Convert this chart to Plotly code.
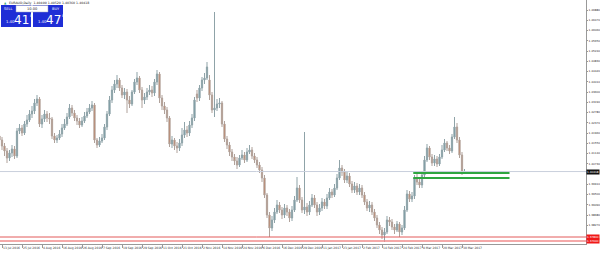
import pandas as pd
import plotly.graph_objects as go

# ---------------- data ----------------
start_date = "2016-07-12"
end_date = "2017-03-31"
holidays = ["2016-12-26", "2017-01-02"]

open_ = [1.4184,1.4168,1.4144,1.4124,1.4096,1.4116,1.4132,1.4104,1.4204,1.4216,
1.4196,1.4232,1.4248,1.4272,1.4284,1.4316,1.4332,1.4232,1.4252,1.4272,
1.4256,1.4252,1.4184,1.4168,1.4176,1.4192,1.4216,1.4232,1.4260,1.4296,
1.4276,1.4256,1.4244,1.4228,1.4244,1.4264,1.4280,1.4296,1.4308,1.4168,
1.4148,1.4164,1.4176,1.4220,1.4272,1.4328,1.4368,1.4392,1.4408,1.4376,
1.4348,1.4360,1.4328,1.4312,1.4360,1.4400,1.4416,1.4368,1.4328,1.4340,
1.4360,1.4368,1.4356,1.4400,1.4432,1.4336,1.4304,1.4288,1.4256,1.4152,
1.4168,1.4144,1.4136,1.4156,1.4188,1.4208,1.4196,1.4228,1.4256,1.4352,
1.4336,1.4376,1.4408,1.4416,1.4408,1.4348,1.4288,1.4296,1.4312,1.4316,
1.4232,1.4172,1.4148,1.4120,1.4100,1.4084,1.4068,1.4096,1.4108,1.4088,
1.4120,1.4128,1.4104,1.4088,1.4068,1.4048,1.4016,1.3948,1.3868,1.3816,
1.3848,1.3880,1.3908,1.3888,1.3868,1.3896,1.3880,1.3856,1.3888,1.3928,
1.3976,1.3928,1.3888,1.3900,1.3880,1.3908,1.3936,1.3908,1.3880,1.3896,
1.3920,1.3904,1.3936,1.3960,1.3948,1.3976,1.4016,1.4056,1.4040,1.4008,
1.4024,1.3992,1.3968,1.3984,1.3960,1.3976,1.3948,1.3920,1.3896,1.3908,
1.3880,1.3856,1.3828,1.3808,1.3788,1.3800,1.3848,1.3840,1.3820,1.3808,
1.3832,1.3800,1.3816,1.3888,1.3952,1.3932,1.3944,1.4016,1.4000,1.3988,
1.4028,1.4088,1.4136,1.4100,1.4076,1.4092,1.4072,1.4100,1.4128,1.4156,
1.4136,1.4124,1.4180,1.4220,1.4168,1.4108,1.4040]

high = [1.4200,1.4180,1.4156,1.4136,1.4128,1.4148,1.4144,1.4216,1.4232,1.4228,
1.4244,1.4268,1.4288,1.4304,1.4332,1.4348,1.4340,1.4268,1.4288,1.4284,
1.4276,1.4260,1.4196,1.4188,1.4208,1.4232,1.4252,1.4276,1.4312,1.4308,
1.4288,1.4268,1.4256,1.4260,1.4280,1.4296,1.4312,1.4324,1.4316,1.4176,
1.4180,1.4192,1.4232,1.4284,1.4344,1.4384,1.4408,1.4428,1.4416,1.4388,
1.4376,1.4372,1.4344,1.4368,1.4412,1.4440,1.4424,1.4380,1.4356,1.4376,
1.4388,1.4384,1.4412,1.4448,1.4440,1.4348,1.4320,1.4300,1.4264,1.4184,
1.4176,1.4160,1.4172,1.4216,1.4240,1.4224,1.4244,1.4272,1.4340,1.4368,
1.4388,1.4420,1.4436,1.4480,1.4428,1.4360,1.4680,1.4332,1.4336,1.4324,
1.4244,1.4184,1.4160,1.4132,1.4112,1.4100,1.4108,1.4128,1.4120,1.4136,
1.4148,1.4140,1.4116,1.4100,1.4080,1.4060,1.4028,1.3956,1.3880,1.3864,
1.3896,1.3928,1.3920,1.3900,1.3912,1.3908,1.3892,1.3904,1.3944,1.4020,
1.3988,1.3940,1.4200,1.3916,1.3924,1.3952,1.3948,1.3920,1.3912,1.3936,
1.3932,1.3952,1.3976,1.3972,1.3992,1.4032,1.4088,1.4068,1.4052,1.4040,
1.4036,1.4004,1.4000,1.3996,1.3992,1.3988,1.3960,1.3932,1.3924,1.3920,
1.3892,1.3868,1.3840,1.3820,1.3816,1.3864,1.3860,1.3852,1.3832,1.3844,
1.3840,1.3828,1.3904,1.3968,1.3964,1.3960,1.4028,1.4032,1.4016,1.4040,
1.4104,1.4152,1.4144,1.4112,1.4108,1.4104,1.4112,1.4148,1.4172,1.4164,
1.4148,1.4192,1.4260,1.4236,1.4180,1.4120,1.4052]

low = [1.4148,1.4128,1.4104,1.4076,1.4084,1.4100,1.4092,1.4096,1.4192,1.4184,
1.4188,1.4220,1.4240,1.4256,1.4272,1.4304,1.4220,1.4216,1.4240,1.4240,
1.4232,1.4172,1.4156,1.4156,1.4168,1.4180,1.4208,1.4224,1.4252,1.4264,
1.4244,1.4228,1.4216,1.4220,1.4236,1.4256,1.4272,1.4284,1.4156,1.4136,
1.4140,1.4156,1.4168,1.4208,1.4264,1.4316,1.4356,1.4376,1.4364,1.4336,
1.4332,1.4276,1.4296,1.4304,1.4352,1.4388,1.4356,1.4296,1.4312,1.4328,
1.4348,1.4340,1.4344,1.4388,1.4316,1.4288,1.4272,1.4240,1.4140,1.4136,
1.4128,1.4116,1.4124,1.4144,1.4176,1.4180,1.4184,1.4216,1.4244,1.4320,
1.4324,1.4364,1.4392,1.4408,1.4328,1.4276,1.4260,1.4284,1.4296,1.4220,
1.4160,1.4132,1.4104,1.4084,1.4068,1.4052,1.4060,1.4088,1.4076,1.4080,
1.4112,1.4092,1.4076,1.4056,1.4036,1.4000,1.3936,1.3856,1.3780,1.3804,
1.3836,1.3872,1.3876,1.3852,1.3856,1.3864,1.3840,1.3844,1.3880,1.3920,
1.3916,1.3876,1.3872,1.3864,1.3868,1.3900,1.3896,1.3864,1.3868,1.3884,
1.3892,1.3892,1.3928,1.3936,1.3940,1.3968,1.4008,1.4024,1.3996,1.3996,
1.3980,1.3956,1.3956,1.3948,1.3948,1.3936,1.3908,1.3884,1.3880,1.3868,
1.3844,1.3816,1.3792,1.3772,1.3760,1.3792,1.3824,1.3808,1.3792,1.3800,
1.3780,1.3788,1.3808,1.3880,1.3920,1.3920,1.3932,1.3988,1.3976,1.3976,
1.4016,1.4080,1.4088,1.4064,1.4064,1.4060,1.4064,1.4092,1.4120,1.4124,
1.4112,1.4116,1.4172,1.4156,1.4096,1.4028,1.4036]

close = [1.4168,1.4144,1.4124,1.4096,1.4116,1.4132,1.4104,1.4204,1.4216,1.4196,
1.4232,1.4248,1.4272,1.4284,1.4316,1.4332,1.4232,1.4252,1.4272,1.4256,
1.4252,1.4184,1.4168,1.4176,1.4192,1.4216,1.4232,1.4260,1.4296,1.4276,
1.4256,1.4244,1.4228,1.4244,1.4264,1.4280,1.4296,1.4308,1.4168,1.4148,
1.4164,1.4176,1.4220,1.4272,1.4328,1.4368,1.4392,1.4408,1.4376,1.4348,
1.4360,1.4328,1.4312,1.4360,1.4400,1.4416,1.4368,1.4328,1.4340,1.4360,
1.4368,1.4356,1.4400,1.4432,1.4336,1.4304,1.4288,1.4256,1.4152,1.4168,
1.4144,1.4136,1.4156,1.4188,1.4208,1.4196,1.4228,1.4256,1.4328,1.4336,
1.4376,1.4408,1.4416,1.4460,1.4348,1.4288,1.4296,1.4312,1.4316,1.4232,
1.4172,1.4148,1.4120,1.4100,1.4084,1.4068,1.4096,1.4108,1.4088,1.4120,
1.4128,1.4104,1.4088,1.4068,1.4048,1.4016,1.3948,1.3868,1.3816,1.3848,
1.3880,1.3908,1.3888,1.3868,1.3896,1.3880,1.3856,1.3888,1.3928,1.3976,
1.3928,1.3888,1.3900,1.3880,1.3908,1.3936,1.3908,1.3880,1.3896,1.3920,
1.3904,1.3936,1.3960,1.3948,1.3976,1.4016,1.4056,1.4040,1.4008,1.4024,
1.3992,1.3968,1.3984,1.3960,1.3976,1.3948,1.3920,1.3896,1.3908,1.3880,
1.3856,1.3828,1.3808,1.3788,1.3800,1.3848,1.3840,1.3820,1.3808,1.3832,
1.3800,1.3816,1.3888,1.3952,1.3932,1.3944,1.4016,1.4000,1.3988,1.4028,
1.4088,1.4136,1.4100,1.4076,1.4092,1.4072,1.4100,1.4128,1.4156,1.4136,
1.4124,1.4180,1.4220,1.4168,1.4108,1.4040,1.40418]

price_ticks = [1.4688, 1.4647, 1.4606, 1.4565, 1.4524, 1.4483, 1.4442, 1.4401,
               1.4360, 1.4319, 1.4278, 1.4237, 1.4196, 1.4155, 1.4114, 1.4073,
               1.3991, 1.3950, 1.3909, 1.3868, 1.3827]
red_levels = [1.3780, 1.3764]
red_level_labels = ["1.37800", "1.37640"]
green_levels = [1.4036, 1.4016]
green_start_bar = 166
green_end_bar = 204
header_text = "EURAUD,Daily  1.40400 1.40520 1.40360 1.40418"
sell_price = ("1.40", "41", "8")
buy_price = ("1.40", "47", "8")
lot_size = "10.00"

# ---------------- build ----------------
dates = [d.strftime("%Y-%m-%d") for d in pd.bdate_range(start_date, end_date)
         if d.strftime("%Y-%m-%d") not in holidays]
tick_idx = list(range(1, len(dates), 8))
tickvals = [dates[i] for i in tick_idx]
ticktext = [pd.Timestamp(dates[i]).strftime("%-d %b %Y") for i in tick_idx]

W, H = 600, 255
ML, MR, MT, MB = 0, 14, 0, 11
PW, PH = W - ML - MR, H - MT - MB

def px(x):
    return x / PW

def py(y):
    return (PH - y) / PH

fig = go.Figure()
fig.add_trace(go.Candlestick(
    x=dates, open=open_, high=high, low=low, close=close,
    increasing=dict(line=dict(color="#8fa3a8", width=1), fillcolor="#6f9ba6"),
    decreasing=dict(line=dict(color="#b0a29b", width=1), fillcolor="#c8734c"),
    whiskerwidth=0, showlegend=False, hoverinfo="skip",
))

shapes = []
shapes.append(dict(type="line", xref="paper", yref="y", x0=0, x1=1,
                   y0=close[-1], y1=close[-1], line=dict(color="#c9cfdc", width=1)))
for lv, col, wd in zip(red_levels, ["#e25a5a", "#f08c8c"], [1, 1.5]):
    shapes.append(dict(type="line", xref="paper", yref="y", x0=0, x1=1,
                       y0=lv, y1=lv, line=dict(color=col, width=wd)))
for lv in green_levels:
    shapes.append(dict(type="line", xref="x", yref="y", x0=green_start_bar - 0.5,
                       x1=green_end_bar, y0=lv, y1=lv,
                       line=dict(color="#2fa640", width=2)))

blue = "#1f2ed6"
shapes.append(dict(type="rect", xref="paper", yref="paper", x0=px(1), x1=px(31),
                   y0=py(27), y1=py(5), fillcolor=blue, line=dict(width=0), layer="above"))
shapes.append(dict(type="rect", xref="paper", yref="paper", x0=px(33), x1=px(63),
                   y0=py(27), y1=py(5), fillcolor=blue, line=dict(width=0), layer="above"))
shapes.append(dict(type="rect", xref="paper", yref="paper", x0=px(16), x1=px(48),
                   y0=py(12), y1=py(5.5), fillcolor="white", line=dict(color="#9aa0c0", width=0.5),
                   layer="above"))

annotations = []
font = "DejaVu Sans"
annotations.append(dict(xref="paper", yref="paper", x=px(7), y=py(3), text=header_text,
                        showarrow=False, xanchor="left", yanchor="middle",
                        font=dict(size=3.2, color="#222", family=font)))
annotations.append(dict(xref="paper", yref="paper", x=px(2), y=py(3), text="▲",
                        showarrow=False, xanchor="left", yanchor="middle",
                        font=dict(size=3, color="#3a7", family=font)))
for txt, x in (("SELL", 8), ("BUY", 56)):
    annotations.append(dict(xref="paper", yref="paper", x=px(x), y=py(8.5), text=txt,
                            showarrow=False, xanchor="center", yanchor="middle",
                            font=dict(size=3.6, color="white", family=font)))
annotations.append(dict(xref="paper", yref="paper", x=px(32), y=py(8.8), text=lot_size,
                        showarrow=False, xanchor="center", yanchor="middle",
                        font=dict(size=3.6, color="#222", family=font)))
for (small, big, sup), x0 in ((sell_price, 4), (buy_price, 36)):
    annotations.append(dict(xref="paper", yref="paper", x=px(x0), y=py(21.5), text=small,
                            showarrow=False, xanchor="left", yanchor="middle",
                            font=dict(size=3.8, color="white", family=font)))
    annotations.append(dict(xref="paper", yref="paper", x=px(x0 + 8), y=py(19.5), text=big,
                            showarrow=False, xanchor="left", yanchor="middle",
                            font=dict(size=12, color="white", family=font)))
    annotations.append(dict(xref="paper", yref="paper", x=px(x0 + 24), y=py(15), text=sup,
                            showarrow=False, xanchor="left", yanchor="middle",
                            font=dict(size=3.8, color="white", family=font)))

tag_font = dict(size=2.8, color="white", family=font)
annotations.append(dict(xref="paper", yref="y", x=1, y=close[-1], text=f"{close[-1]:.5f}",
                        showarrow=False, xanchor="left", yanchor="middle",
                        bgcolor="#111", borderpad=0, font=tag_font))
for lv, txt in zip(red_levels, red_level_labels):
    annotations.append(dict(xref="paper", yref="y", x=1, y=lv, text=txt,
                            showarrow=False, xanchor="left", yanchor="middle",
                            bgcolor="#f01818", borderpad=0, font=tag_font))

fig.update_layout(
    width=W, height=H, margin=dict(l=ML, r=MR, t=MT, b=MB, autoexpand=False),
    paper_bgcolor="white", plot_bgcolor="white",
    shapes=shapes, annotations=annotations, showlegend=False,
    xaxis=dict(type="category", range=[0.2, 0.2 + PW / 2.5], automargin=False,
               rangeslider=dict(visible=False), showgrid=False, zeroline=False,
               showline=True, linecolor="#999", linewidth=1,
               ticks="outside", ticklen=3, tickcolor="#999",
               tickvals=tickvals, ticktext=ticktext, tickangle=0,
               ticklabelposition="outside right",
               tickfont=dict(size=3.0, color="#333", family=font)),
    yaxis=dict(side="right", range=[1.3752, 1.4728], showgrid=False, zeroline=False,
               automargin=False, showline=True, linecolor="#999", linewidth=1,
               ticks="outside", ticklen=1, tickcolor="#999",
               tickvals=price_ticks, tickformat=".5f",
               tickfont=dict(size=2.8, color="#333", family=font)),
)

fig.write_html("out.html")
